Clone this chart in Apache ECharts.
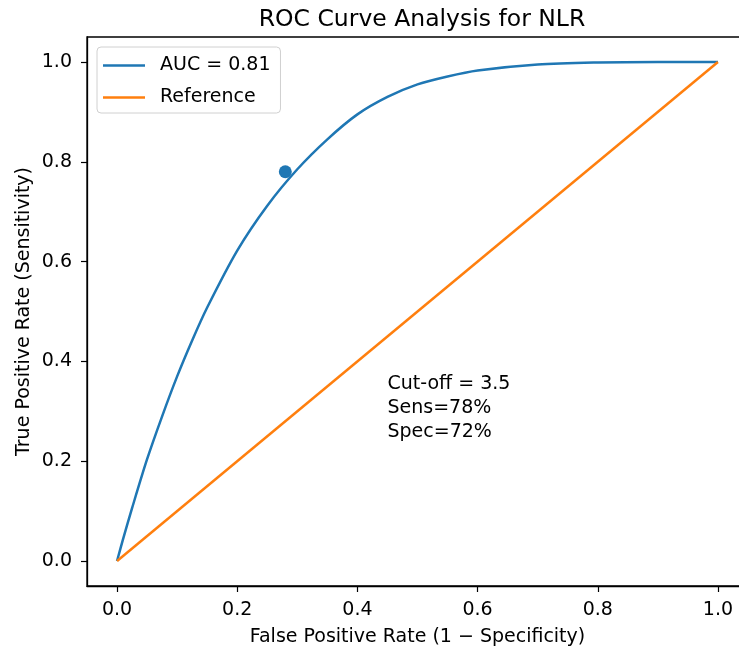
<!DOCTYPE html>
<html>
<head>
<meta charset="utf-8">
<script src="https://cdn.jsdelivr.net/npm/echarts@6/dist/echarts.min.js"></script>
<style>
  html, body { margin: 0; padding: 0; background: #fff; }
  #chart { width: 739px; height: 649px; }
</style>
</head>
<body>
<div id="chart"></div>
<script>
// ROC curve
var fpr = [0, 0.01, 0.025, 0.05, 0.075, 0.1, 0.125, 0.15, 0.2, 0.25, 0.3, 0.35, 0.4, 0.45, 0.5, 0.55, 0.6, 0.7, 0.8, 0.9, 1.0];
var tpr = [0, 0.044, 0.106, 0.204, 0.29, 0.37, 0.442, 0.508, 0.622, 0.712, 0.785, 0.845, 0.895, 0.93, 0.955, 0.971, 0.983, 0.995, 0.999, 1.0, 1.0];
// diagonal reference line
var refX = [0, 1];
var refY = [0, 1];
// optimal cut-off point
var cutX = [0.28];
var cutY = [0.78];
var noteText = ['Cut-off = 3.5', 'Sens=78%', 'Spec=72%'];
var notePos = [0.45, 0.25];
var xTicks = [0, 0.2, 0.4, 0.6, 0.8, 1.0];
var yTicks = [0, 0.2, 0.4, 0.6, 0.8, 1.0];

function pairs(xs, ys) {
    return xs.map(function (x, i) { return [x, ys[i]]; });
}

var font = 'DejaVu Sans';
var chart = echarts.init(document.getElementById('chart'), null, {renderer: 'canvas'});

chart.setOption({
    backgroundColor: '#fff',
    animation: false,
    title: {
        text: 'ROC Curve Analysis for NLR',
        left: 417, top: 3, textAlign: 'center',
        textStyle: {fontFamily: font, fontSize: 23.5, fontWeight: 'normal', color: '#000'}
    },
    legend: {
        orient: 'vertical',
        left: 97, top: 47,
        data: ['AUC = 0.81', 'Reference'],
        icon: 'rect',
        itemWidth: 42, itemHeight: 2.5,
        itemGap: 11,
        padding: [8, 10, 5, 6],
        borderColor: '#d0d0d0', borderWidth: 1, borderRadius: 4,
        backgroundColor: 'rgba(255,255,255,0.8)',
        textStyle: {fontFamily: font, fontSize: 19, lineHeight: 21, color: '#000', padding: [0, 0, 0, 10]}
    },
    grid: {
        left: 87, top: 37, width: 661, height: 549,
        outerBoundsMode: 'none', containLabel: false,
        show: true, borderColor: '#000', borderWidth: 1.3, backgroundColor: 'transparent'
    },
    xAxis: {
        type: 'value', min: -0.05, max: 1.05,
        name: 'False Positive Rate (1 \u2212 Specificity)',
        nameLocation: 'middle', nameGap: 42, nameMoveOverlap: false,
        nameTextStyle: {fontFamily: font, fontSize: 19, color: '#000'},
        splitLine: {show: false},
        axisLine: {show: true, onZero: false, lineStyle: {color: '#000', width: 1.3}},
        axisTick: {show: true, length: 6, customValues: xTicks, lineStyle: {color: '#000', width: 1.2}},
        axisLabel: {
            customValues: xTicks, margin: 15,
            fontFamily: font, fontSize: 19, color: '#000',
            formatter: function (v) { return v.toFixed(1); }
        }
    },
    yAxis: {
        type: 'value', min: -0.05, max: 1.05,
        name: 'True Positive Rate (Sensitivity)',
        nameLocation: 'middle', nameGap: 53, nameMoveOverlap: false,
        nameTextStyle: {fontFamily: font, fontSize: 19, color: '#000'},
        splitLine: {show: false},
        axisLine: {show: true, onZero: false, lineStyle: {color: '#000', width: 1.3}},
        axisTick: {show: true, length: 6, customValues: yTicks, lineStyle: {color: '#000', width: 1.2}},
        axisLabel: {
            customValues: yTicks, margin: 15,
            fontFamily: font, fontSize: 19, color: '#000',
            formatter: function (v) { return v.toFixed(1); }
        }
    },
    series: [
        {
            name: 'AUC = 0.81', type: 'line', data: pairs(fpr, tpr),
            smooth: 0.3, symbol: 'none',
            lineStyle: {color: '#1f77b4', width: 2.5}, itemStyle: {color: '#1f77b4'}
        },
        {
            name: 'Reference', type: 'line', data: pairs(refX, refY),
            symbol: 'none',
            lineStyle: {color: '#ff7f0e', width: 2.5}, itemStyle: {color: '#ff7f0e'}
        },
        {
            name: 'cutoff', type: 'scatter', data: pairs(cutX, cutY),
            symbolSize: 13, itemStyle: {color: '#1f77b4', opacity: 1}
        }
    ]
});

// annotation anchored at its data position
var p = chart.convertToPixel({gridIndex: 0}, notePos);
chart.setOption({
    graphic: [{
        type: 'text', left: p[0], top: p[1] - 72 + 8,
        style: {
            text: noteText.join('\n'),
            fontFamily: font, fontSize: 19, lineHeight: 24, fill: '#000'
        }
    }]
});
</script>
</body>
</html>
